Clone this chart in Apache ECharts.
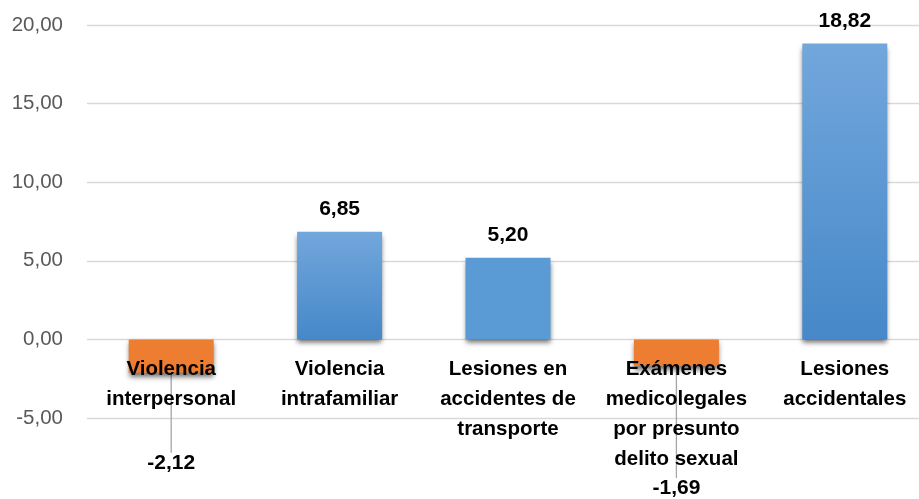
<!DOCTYPE html>
<html>
<head>
<meta charset="utf-8">
<script src="https://cdn.jsdelivr.net/npm/echarts@6/dist/echarts.min.js"></script>
<style>
html,body{margin:0;padding:0;background:#fff;}
#chart{width:919px;height:499px;}
</style>
</head>
<body>
<div id="chart"></div>
<script>
const categories = [
  "Violencia\ninterpersonal",
  "Violencia\nintrafamiliar",
  "Lesiones en\naccidentes de\ntransporte",
  "Exámenes\nmedicolegales\npor presunto\ndelito sexual",
  "Lesiones\naccidentales"
];
const values = [-2.12, 6.85, 5.20, -1.69, 18.82];
const yTicks = { min: -5, max: 20, interval: 5 };
const negLabelShift = [75, 0, 0, 107, 0];

const fmt = v => Number(v).toFixed(2).replace('.', ',');

const gradBlue = {
  type: 'linear', x: 0, y: 0, x2: 0, y2: 1,
  colorStops: [{ offset: 0, color: '#72A7DC' }, { offset: 1, color: '#4688C9' }]
};
const flatBlue = '#5B9BD5';
const orange = '#ED7D31';
const fills = [orange, gradBlue, flatBlue, orange, gradBlue];

const data = values.map((v, i) => {
  const neg = v < 0;
  return {
    value: v,
    itemStyle: { color: fills[i] },
    label: neg ? { position: 'bottom', distance: 5 } : { position: 'top', distance: 12 },
    labelLine: { show: neg, lineStyle: { color: '#A6A6A6', width: 1.3 } }
  };
});

const chart = echarts.init(document.getElementById('chart'), null, { renderer: 'canvas' });
chart.setOption({
  animation: false,
  backgroundColor: '#fff',
  grid: { left: 87, top: 25, width: 842, bottom: 81, containLabel: false, outerBoundsMode: 'none' },
  xAxis: {
    type: 'category',
    data: categories,
    z: 10,
    position: 'bottom',
    offset: -79,
    axisLine: { show: false, onZero: false },
    axisTick: { show: false },
    axisLabel: {
      interval: 0,
      margin: 15,
      color: '#000',
      fontFamily: 'Liberation Sans',
      fontWeight: 'bold',
      fontSize: 20.5,
      lineHeight: 30
    }
  },
  yAxis: {
    type: 'value',
    min: yTicks.min, max: yTicks.max, interval: yTicks.interval,
    axisLine: { show: false },
    axisTick: { show: false },
    splitLine: { lineStyle: { color: '#D9D9D9', width: 1.3 } },
    axisLabel: {
      margin: 24,
      color: '#595959',
      fontFamily: 'Liberation Sans',
      fontSize: 20.5,
      formatter: v => fmt(v)
    }
  },
  series: [{
    type: 'bar',
    data: data,
    barWidth: 85,
    itemStyle: {
      shadowColor: 'rgba(0,0,0,0.55)',
      shadowBlur: 5,
      shadowOffsetY: 4,
      shadowOffsetX: 0
    },
    label: {
      show: true,
      color: '#000',
      fontFamily: 'Liberation Sans',
      fontWeight: 'bold',
      fontSize: 21,
      formatter: p => fmt(p.value)
    },
    labelLayout: p => negLabelShift[p.dataIndex] ? { dy: negLabelShift[p.dataIndex] } : {}
  }]
});
</script>
</body>
</html>
